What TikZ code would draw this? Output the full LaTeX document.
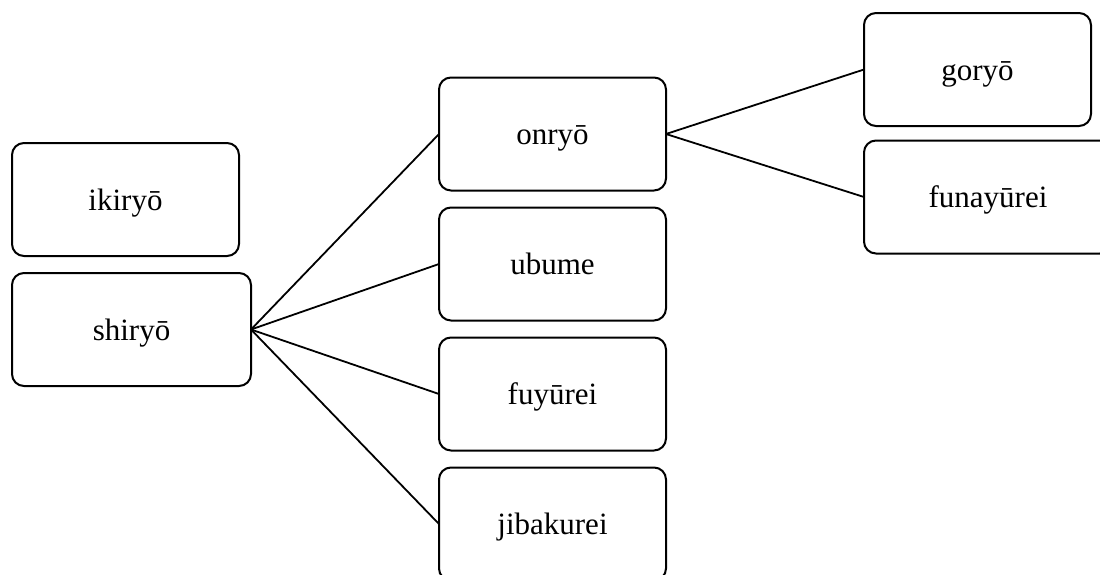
\documentclass[tikz,border=0pt]{standalone}
\usepackage{fontspec}
\setmainfont{Liberation Serif}
\begin{document}
\begin{tikzpicture}[x=1pt,y=-1pt,
  box/.style={draw=black, line width=2pt, rounded corners=12pt, inner sep=0pt, outer sep=0pt,
    minimum height=113pt, text height=23pt, text depth=2pt, font=\fontsize{31}{37}\selectfont, fill=white},
  link/.style={draw=black, line width=1.8pt}]
\useasboundingbox (0,0) rectangle (1100,574);
\clip (0,0) rectangle (1100,574);
\node[box, minimum width=227pt] (ikiryo) at (125.5,199.5) {ikiryō};
\node[box, minimum width=239pt] (shiryo) at (131.5,329.5) {shiryō};
\node[box, minimum width=227pt] (onryo) at (552.5,134) {onryō};
\node[box, minimum width=227pt] (ubume) at (552.5,264) {ubume};
\node[box, minimum width=227pt] (fuyurei) at (552.5,394) {fuyūrei};
\node[box, minimum width=227pt] (jibakurei) at (552.5,524) {jibakurei};
\node[box, minimum width=227pt] (goryo) at (977.5,69.5) {goryō};
\node[box, minimum width=248pt] (funayurei) at (988,197) {funayūrei};
\draw[link] (shiryo.east) -- (onryo.west);
\draw[link] (shiryo.east) -- (ubume.west);
\draw[link] (shiryo.east) -- (fuyurei.west);
\draw[link] (shiryo.east) -- (jibakurei.west);
\draw[link] (onryo.east) -- (goryo.west);
\draw[link] (onryo.east) -- (funayurei.west);
\end{tikzpicture}
\end{document}
